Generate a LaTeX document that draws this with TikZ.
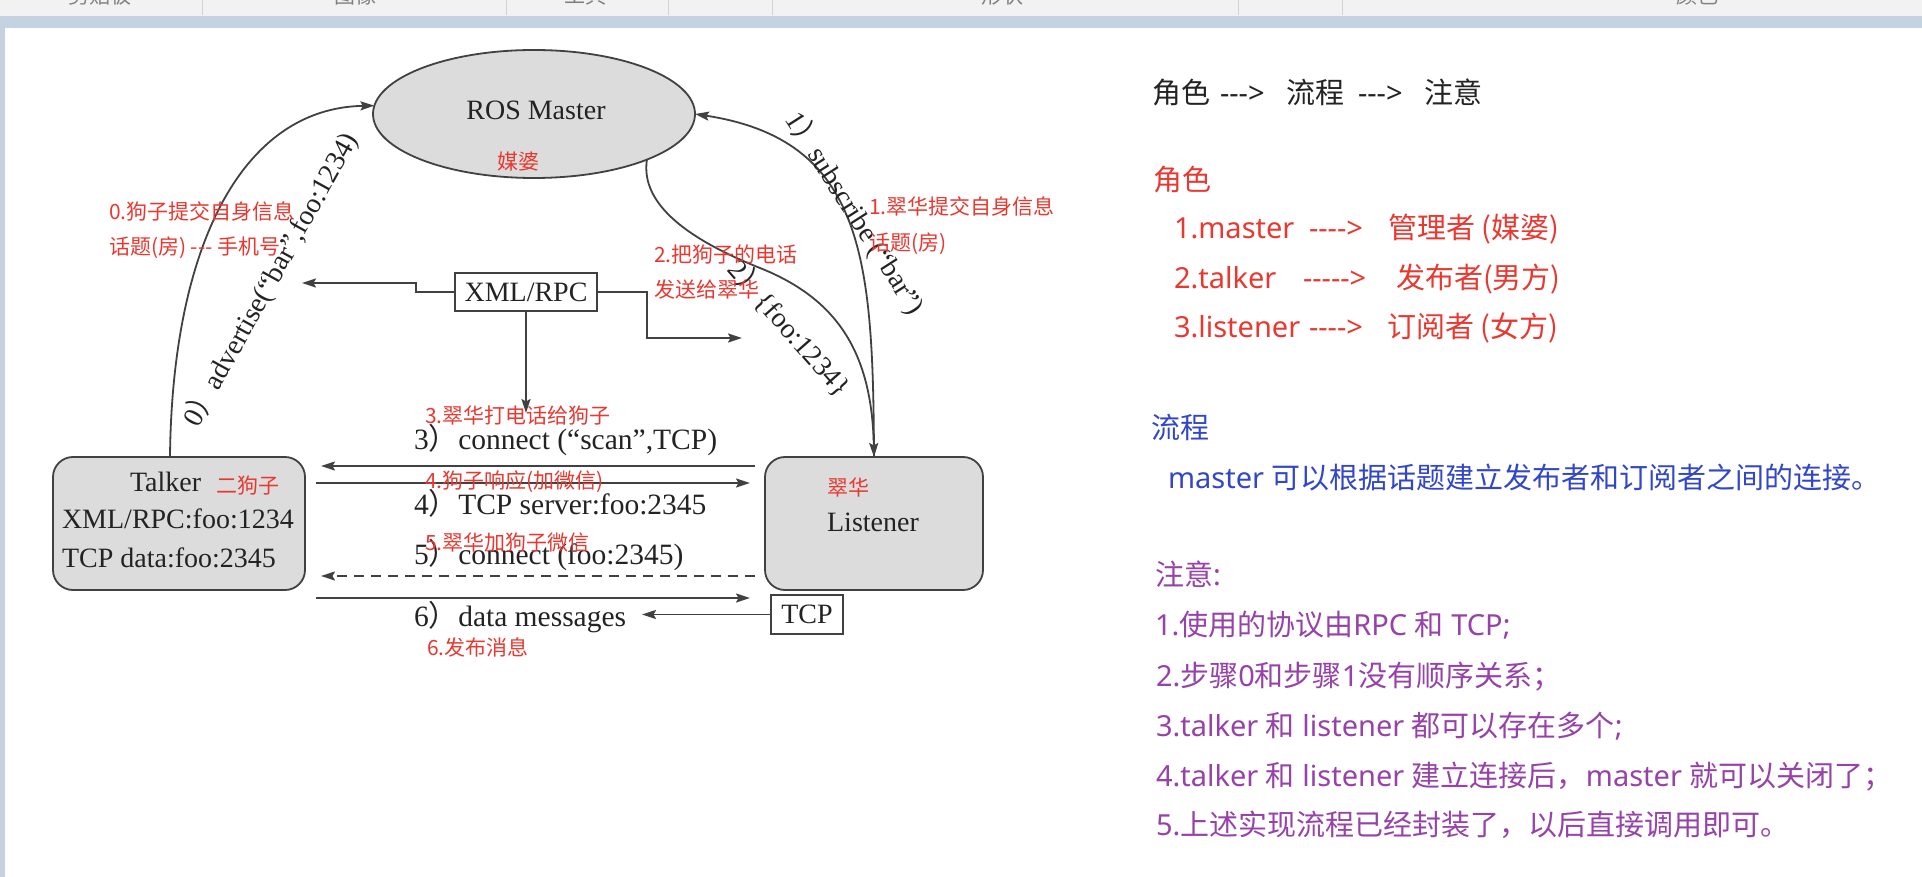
\documentclass[tikz,border=0pt]{standalone}
\usepackage{fontspec}
\setmainfont{Liberation Serif}
\newfontfamily\cjk{Noto Sans CJK SC}
\newfontfamily\lat{Noto Sans}
\usetikzlibrary{arrows.meta,shapes.geometric}
\definecolor{myred}{RGB}{232,56,48}
\definecolor{myblue}{RGB}{50,70,200}
\definecolor{mypurple}{RGB}{150,66,168}
\definecolor{ink}{RGB}{35,35,35}
\definecolor{linec}{RGB}{65,65,65}
\definecolor{boxfill}{RGB}{220,220,220}
\definecolor{chrome}{RGB}{241,242,241}
\definecolor{chromeblue}{RGB}{197,210,226}
\newcommand\fwp{{\cjk ）}}
\begin{document}
\begin{tikzpicture}[x=1pt,y=-1pt,
  every node/.style={inner sep=0pt,outer sep=0pt},
  tm/.style={font=\fontsize{28}{30}\selectfont, text=ink},
  tml/.style={font=\fontsize{29.5}{31}\selectfont, text=ink, anchor=base west},
  rd/.style={font=\cjk\fontsize{21}{24}\selectfont, text=myred, anchor=base west},
  conn/.style={draw=linec, line width=1.8pt},
  tip/.style={-{Stealth[length=14pt,width=9pt,inset=2.5pt]}},
  pane/.style={font=\cjk\fontsize{29}{32}\selectfont, anchor=base west},
  grayshape/.style={draw=linec, line width=1.8pt, fill=boxfill},
  tbar/.style={font=\cjk\fontsize{21}{24}\selectfont, text=gray, anchor=base},
]
\useasboundingbox (0,0) rectangle (1922,877);
\fill[white] (0,0) rectangle (1922,877);
% window chrome
\fill[chrome] (0,0) rectangle (1922,16);
\fill[chromeblue] (0,16) rectangle (1922,28);
\fill[chromeblue] (0,28) rectangle (5,877);
\foreach \x in {202,506,668,772,1238,1342} \draw[gray!35, line width=1pt] (\x,0) -- (\x,15);
\begin{scope}
\clip (0,0) rectangle (1922,15);
\node[tbar] (tb1) at (100,4) {剪贴板};
\node[tbar] (tb2) at (355,4) {图像};
\node[tbar] (tb3) at (585,4) {工具};
\node[tbar] (tb4) at (1002,4) {形状};
\node[tbar] (tb5) at (1697,4) {颜色};
\end{scope}

% ---- diagram shapes
\node[grayshape, ellipse, minimum width=322pt, minimum height=128pt] (master) at (534,114) {};
\node[tm, anchor=base] (mtxt) at (536,120) {ROS Master};
\node[rd, anchor=base] (mp) at (518,170) {媒婆};

\node[grayshape, rounded corners=20pt, minimum width=252pt, minimum height=133pt] (talker) at (179,523.5) {};
\node[tm, anchor=base west] (ttxt) at (130,491) {Talker};
\node[rd] (egz) at (216,493) {二狗子};
\node[tm, anchor=base west] (t2) at (62,528) {XML/RPC:foo:1234};
\node[tm, anchor=base west] (t3) at (62,567) {TCP data:foo:2345};

\node[grayshape, rounded corners=20pt, minimum width=218pt, minimum height=133pt] (listener) at (874,523.5) {};
\node[rd] (ch) at (827,495) {翠华};
\node[tm, anchor=base] (ltxt) at (873,531) {Listener};

\node[draw=linec, line width=1.5pt, fill=white, minimum width=142pt, minimum height=38pt, tm] (xml) at (526,292) {XML/RPC};
\node[draw=linec, line width=1.5pt, fill=white, minimum width=72pt, minimum height=39pt, tm] (tcp) at (807,614.5) {TCP};

% ---- free ends
\coordinate (xl) at (302,283);
\coordinate (xr) at (742,338);
\coordinate (xd) at (526,413);
\coordinate (m3a) at (755,466);
\coordinate (m3b) at (321,466);
\coordinate (m4a) at (316,483);
\coordinate (m4b) at (750,483);
\coordinate (m5a) at (755,576);
\coordinate (m5b) at (321,576);
\coordinate (m6a) at (316,598);
\coordinate (m6b) at (750,598);
\coordinate (m7b) at (642,614.5);

% ---- connectors
\draw[conn, tip] ([xshift=-9pt]talker.north) .. controls (172,250) and (240,108) .. (master.177);
\draw[conn, tip] (listener.north) .. controls (873,260) and (865,140) .. (master.east);
\draw[conn, tip] (master.-22) .. controls (640,205) and (690,240) .. (760,268) .. controls (835,298) and (872,350) .. (listener.north);

\draw[conn, tip] (xml.west) -- (416,292) -- (416,283) -- (xl);
\draw[conn, tip] (xml.east) -- (647,292) -- (647,338) -- (xr);
\draw[conn, tip] (xml.south) -- (xd);

\draw[conn, tip] (m3a) -- (m3b);
\draw[conn, tip] (m4a) -- (m4b);
\draw[conn, tip, dash pattern=on 10pt off 7pt] (m5a) -- (m5b);
\draw[conn, tip] (m6a) -- (m6b);
\draw[conn, tip] (tcp.west) -- (m7b);

% ---- connector labels
\node[tm, rotate=61] (adv) at (270.5,279.5) {0\fwp advertise(“bar”,foo:1234)};
\node[tm, rotate=-57.4] (sub) at (855,213) {1\fwp subscribe (“bar”)};
\node[tm, rotate=-48.6] (foo) at (790,328) {2\fwp\{foo:1234\}};

\node[tml] (l3) at (414,449) {3\fwp connect (“scan”,TCP)};
\node[tml] (l4) at (414,514) {4\fwp TCP server:foo:2345};
\node[tml] (l5) at (414,564) {5\fwp connect (foo:2345)};
\node[tml] (l6) at (414,626) {6\fwp data messages};

% ---- red annotations
\node[rd] (r0a) at (109,220) {0.狗子提交自身信息};
\node[rd] (r0b) at (109,255) {话题(房) --- 手机号};
\node[rd] (r1a) at (869,215) {1.翠华提交自身信息};
\node[rd] (r1b) at (869,251) {话题(房)};
\node[rd] (r2a) at (654,263) {2.把狗子的电话};
\node[rd] (r2b) at (654,298) {发送给翠华};
\node[rd] (r3) at (425,423) {3.翠华打电话给狗子};
\node[rd] (r4) at (425,488) {4.狗子响应(加微信)};
\node[rd] (r5) at (425,550) {5.翠华加狗子微信};
\node[rd] (r6) at (427,655) {6.发布消息};

% ---- right panel
\node[pane, text=ink] (h1) at (1152,103.5) {角色};
\node[pane, text=ink, font=\lat\fontsize{29}{32}\selectfont] (h2) at (1220,103.5) {-{}-{}->};
\node[pane, text=ink] (h3) at (1286,103.5) {流程};
\node[pane, text=ink, font=\lat\fontsize{29}{32}\selectfont] (h4) at (1358,103.5) {-{}-{}->};
\node[pane, text=ink] (h5) at (1424,103.5) {注意};

\node[pane, text=myred] (js) at (1153,190.5) {角色};
\node[pane, text=myred] (j1a) at (1174,238.5) {\lat 1.master};
\node[pane, text=myred] (j1b) at (1309,238.5) {\lat -{}-{}-{}->};
\node[pane, text=myred] (j1c) at (1388,238.5) {管理者 (媒婆)};
\node[pane, text=myred] (j2a) at (1174,288.5) {\lat 2.talker};
\node[pane, text=myred] (j2b) at (1303,288.5) {\lat -{}-{}-{}-{}->};
\node[pane, text=myred] (j2c) at (1396,288.5) {发布者(男方)};
\node[pane, text=myred] (j3a) at (1174,337.5) {\lat 3.listener};
\node[pane, text=myred] (j3b) at (1309,337.5) {\lat -{}-{}-{}->};
\node[pane, text=myred] (j3c) at (1387,337.5) {订阅者 (女方)};

\node[pane, text=myblue] (lc) at (1151,438.5) {流程};
\node[pane, text=myblue] (lc1) at (1168,488.5) {{\lat master }可以根据话题建立发布者和订阅者之间的连接。};

\node[pane, text=mypurple] (zy) at (1155,585.5) {注意{\lat :}};
\node[pane, text=mypurple] (z1) at (1155,635.5) {{\lat 1.}使用的协议由{\lat RPC }和{\lat\ TCP;}};
\node[pane, text=mypurple] (z2) at (1156,686.5) {{\lat 2.}步骤{\lat 0}和步骤{\lat 1}没有顺序关系；};
\node[pane, text=mypurple] (z3) at (1156,736.5) {{\lat 3.talker }和{\lat\ listener }都可以存在多个{\lat ;}};
\node[pane, text=mypurple] (z4) at (1156,786.5) {{\lat 4.talker }和{\lat\ listener }建立连接后，{\lat master }就可以关闭了；};
\node[pane, text=mypurple] (z5) at (1156,835.5) {{\lat 5.}上述实现流程已经封装了，以后直接调用即可。};
\end{tikzpicture}
\end{document}
